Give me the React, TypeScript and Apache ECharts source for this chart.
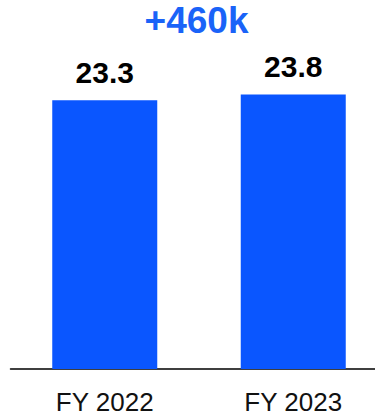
import React, { useEffect, useRef } from "react";
import * as echarts from "echarts";

const categories = ["FY 2022", "FY 2023"];
const values = [23.3, 23.8];
const headline = "+460k";

const FONT = "'Liberation Sans', Arial, sans-serif";

export default function App() {
  const ref = useRef<HTMLDivElement>(null);
  useEffect(() => {
    if (!ref.current) return;
    const chart = echarts.init(ref.current, undefined, { renderer: "svg" });
    chart.setOption({
      animation: false,
      textStyle: { fontFamily: FONT },
      graphic: [
        {
          type: "text",
          x: 196.5,
          y: 20,
          style: {
            text: headline,
            fill: "#1a63f8",
            font: `bold 37px ${FONT}`,
            textAlign: "center",
            textVerticalAlign: "middle",
          },
        },
      ],
      grid: {
        left: 10.5,
        width: 377,
        top: 23,
        bottom: 47,
        containLabel: false,
        outerBoundsMode: "none",
      },
      xAxis: {
        type: "category",
        data: categories,
        axisLine: { show: true, lineStyle: { color: "#000", width: 1.5 } },
        axisTick: { show: false },
        axisLabel: { color: "#111", fontSize: 26, margin: 20, fontFamily: FONT },
      },
      yAxis: {
        type: "value",
        min: 0,
        max: 30,
        show: false,
        splitLine: { show: false },
      },
      series: [
        {
          type: "bar",
          data: values,
          barWidth: 105,
          itemStyle: { color: "#0a56ff" },
          label: {
            show: true,
            position: "top",
            distance: 13,
            color: "#000",
            fontWeight: "bold",
            fontSize: 30,
            fontFamily: FONT,
            formatter: (p: any) => p.value.toFixed(1),
          },
        },
      ],
    });
    return () => chart.dispose();
  }, []);
  return (
    <div
      ref={ref}
      style={{ position: "absolute", left: 0, top: 0, width: 375, height: 416 }}
    />
  );
}
